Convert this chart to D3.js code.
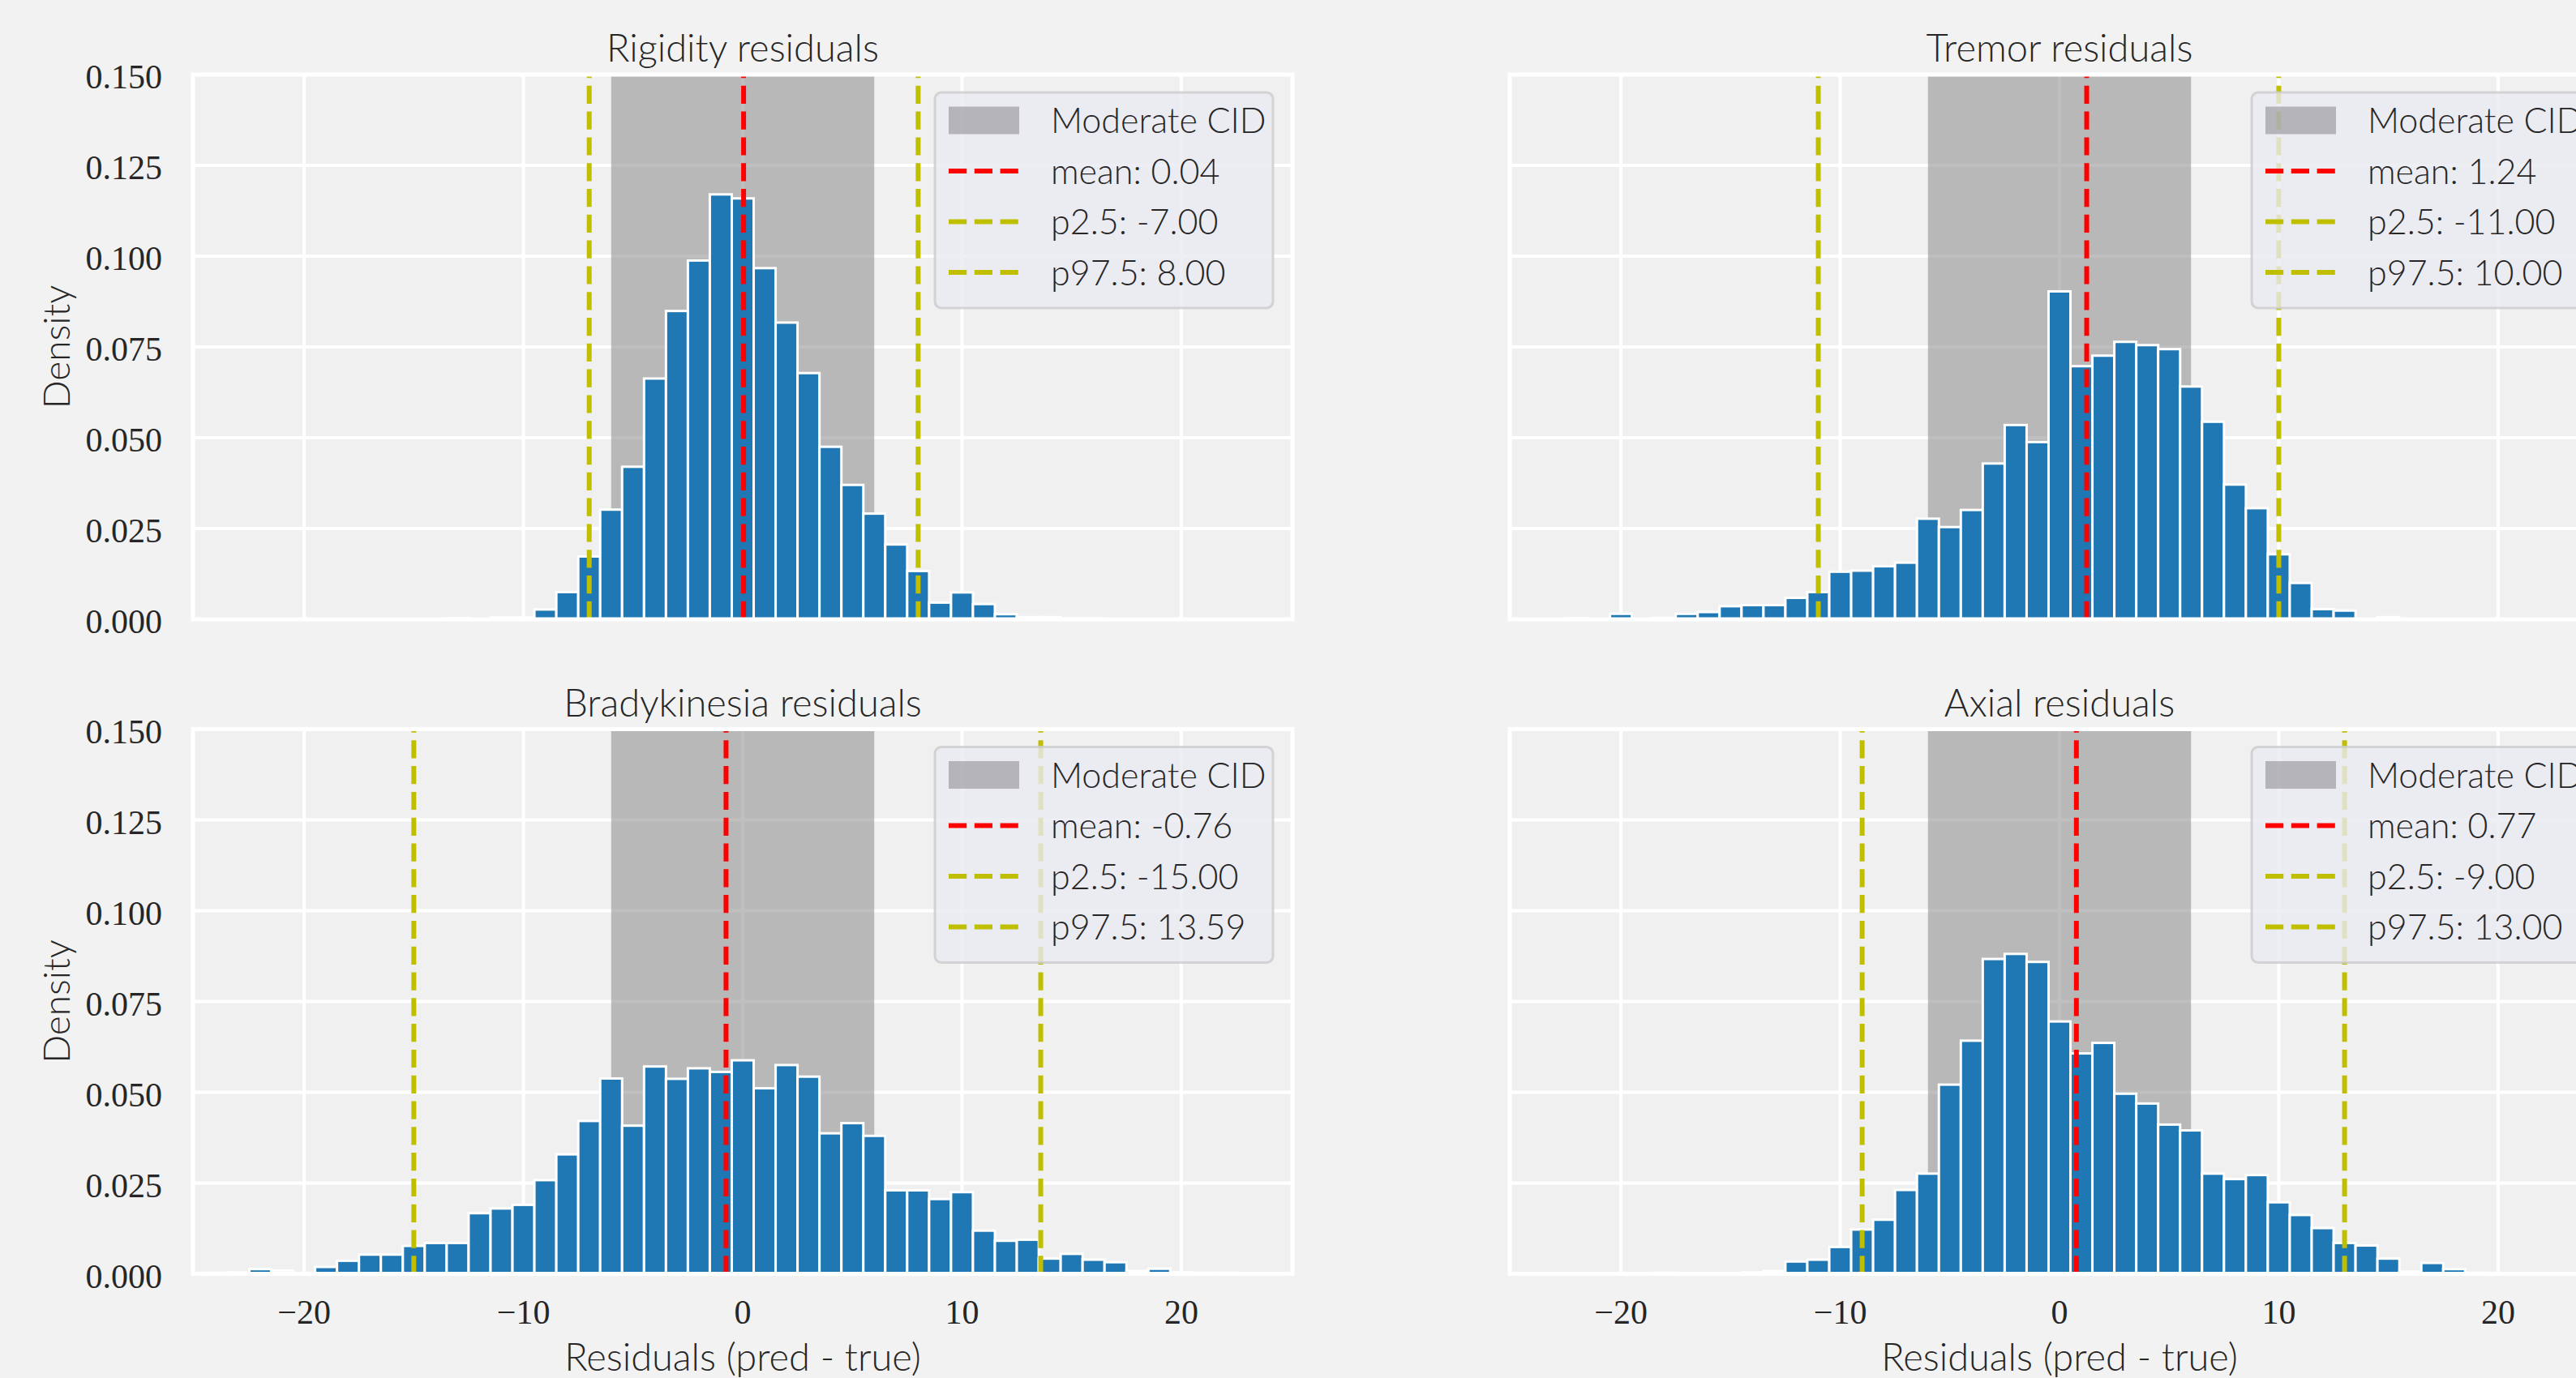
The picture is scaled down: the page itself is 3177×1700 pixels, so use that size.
<!DOCTYPE html>
<html>
<head>
<meta charset="utf-8">
<script src="https://cdn.jsdelivr.net/npm/d3@7"></script>
<style>
  html, body { margin: 0; padding: 0; background: #f2f2f2; }
  svg { display: block; }
</style>
</head>
<body>
<svg id="chart"></svg>
<script>
// bin centres (bins are 1 unit wide, edges at half integers)
const bins = [-24,-23,-22,-21,-20,-19,-18,-17,-16,-15,-14,-13,-12,-11,-10,-9,-8,-7,-6,-5,-4,-3,-2,-1,
  0,1,2,3,4,5,6,7,8,9,10,11,12,13,14,15,16,17,18,19,20,21,22,23];

const rigidity = [0,0,0,0,0,0,0,0,0,0,0,0.0003,0,0.0005,0.0005,0.0027,0.0075,0.0173,0.0302,0.0420,0.0663,0.0849,0.0988,0.1170,
  0.1159,0.0967,0.0817,0.0678,0.0475,0.0370,0.0291,0.0206,0.0133,0.0046,0.0074,0.0042,0.0014,0.0006,0.0006,0.0002,0.0002,0,0,0,0,0,0,0];
const tremor = [0,0,0.0003,0,0.0015,0,0.0004,0.0015,0.0020,0.0036,0.0039,0.0039,0.0059,0.0075,0.0131,0.0134,0.0146,0.0156,0.0277,0.0254,0.0301,0.0429,0.0535,0.0488,
  0.0903,0.0697,0.0726,0.0764,0.0755,0.0744,0.0641,0.0544,0.0371,0.0306,0.0179,0.0100,0.0028,0.0024,0,0.0006,0,0,0,0,0,0,0,0];
const bradykinesia = [0.0003,0.0004,0.0013,0.0009,0,0.0019,0.0036,0.0053,0.0053,0.0077,0.0085,0.0085,0.0167,0.0180,0.0190,0.0258,0.0329,0.0421,0.0538,0.0408,0.0571,0.0537,0.0566,0.0556,
  0.0588,0.0511,0.0575,0.0543,0.0387,0.0415,0.0380,0.0230,0.0230,0.0206,0.0225,0.0119,0.0091,0.0094,0.0042,0.0055,0.0039,0.0032,0.0008,0.0014,0.0004,0.0003,0.0003,0];
const axial = [0,0,0,0,0,0,0.0003,0,0,0,0.0004,0.0008,0.0034,0.0039,0.0074,0.0122,0.0149,0.0231,0.0276,0.0521,0.0642,0.0867,0.0881,0.0859,
  0.0695,0.0607,0.0636,0.0496,0.0469,0.0411,0.0395,0.0276,0.0261,0.0272,0.0197,0.0162,0.0126,0.0085,0.0078,0.0042,0.0006,0.0030,0.0013,0.0003,0.0002,0,0,0];

const titles = ["Rigidity residuals", "Tremor residuals", "Bradykinesia residuals", "Axial residuals"];
const series = [rigidity, tremor, bradykinesia, axial];
const means = [0.04, 1.24, -0.76, 0.77];
const p025 = [-7.00, -11.00, -15.00, -9.00];
const p975 = [8.00, 10.00, 13.59, 13.00];
const cid = [-6, 6];

const xTicks = [-20, -10, 0, 10, 20];
const yTicks = [0, 0.025, 0.05, 0.075, 0.1, 0.125, 0.15];

const W = 3177, H = 1700;
const axW = 1356, axH = 672;
const lefts = [238, 1862];
const tops = [92, 899.5];

const svg = d3.select("#chart").attr("width", W).attr("height", H);
svg.append("rect").attr("width", W).attr("height", H).attr("fill", "#f2f2f2");

const sansFont = "Lato, 'Open Sans', sans-serif";
const serifFont = "'Liberation Serif', 'DejaVu Serif', serif";
const textColor = "#262626";
const fmtTick = d => (d < 0 ? "\u2212" : "") + Math.abs(d);

series.forEach((vals, i) => {
  const col = i % 2, row = Math.floor(i / 2);
  const x0 = lefts[col], y0 = tops[row];

  const x = d3.scaleLinear().domain([-25.07, 25.07]).range([x0, x0 + axW]);
  const y = d3.scaleLinear().domain([0, 0.15]).range([y0 + axH, y0]);

  const g = svg.append("g");
  const clipId = "clip" + i;
  g.append("clipPath").attr("id", clipId)
    .append("rect").attr("x", x0).attr("y", y0).attr("width", axW).attr("height", axH);

  g.append("rect").attr("x", x0).attr("y", y0).attr("width", axW).attr("height", axH)
    .attr("fill", "#f0f0f0");

  const plot = g.append("g").attr("clip-path", `url(#${clipId})`);

  // grid
  plot.selectAll(".vg").data(xTicks).enter().append("line")
    .attr("x1", d => x(d)).attr("x2", d => x(d))
    .attr("y1", y0).attr("y2", y0 + axH)
    .attr("stroke", "#ffffff").attr("stroke-width", 4);
  plot.selectAll(".hg").data(yTicks).enter().append("line")
    .attr("x1", x0).attr("x2", x0 + axW)
    .attr("y1", d => y(d)).attr("y2", d => y(d))
    .attr("stroke", "#ffffff").attr("stroke-width", 4);

  // moderate CID band
  plot.append("rect")
    .attr("x", x(cid[0])).attr("width", x(cid[1]) - x(cid[0]))
    .attr("y", y0).attr("height", axH)
    .attr("fill", "#808080").attr("fill-opacity", 0.5);

  // histogram bars
  const data = bins.map((b, j) => ({ b, v: vals[j] })).filter(d => d.v > 0);
  plot.selectAll(".bar").data(data).enter().append("rect")
    .attr("x", d => x(d.b - 0.5))
    .attr("width", d => x(d.b + 0.5) - x(d.b - 0.5))
    .attr("y", d => y(d.v))
    .attr("height", d => y(0) - y(d.v))
    .attr("fill", "#1f77b4")
    .attr("stroke", "#ffffff").attr("stroke-width", 3);

  // reference lines
  const refs = [
    { v: means[i], c: "#ff0000" },
    { v: p025[i], c: "#bfbf00" },
    { v: p975[i], c: "#bfbf00" }
  ];
  plot.selectAll(".ref").data(refs).enter().append("line")
    .attr("x1", d => x(d.v)).attr("x2", d => x(d.v))
    .attr("y1", y0 + axH).attr("y2", y0)
    .attr("stroke", d => d.c).attr("stroke-width", 6)
    .attr("stroke-dasharray", "22.2 9.6");

  // white frame (spines)
  g.append("rect").attr("x", x0).attr("y", y0).attr("width", axW).attr("height", axH)
    .attr("fill", "none").attr("stroke", "#ffffff").attr("stroke-width", 5);

  // title
  g.append("text")
    .attr("x", x0 + axW / 2).attr("y", y0 - 16)
    .attr("text-anchor", "middle")
    .style("font-family", sansFont).style("font-size", "47px").style("font-weight", 300)
    .attr("fill", textColor)
    .text(titles[i]);

  // y tick labels on the left column
  if (col === 0) {
    g.selectAll(".yt").data(yTicks).enter().append("text")
      .attr("x", x0 - 38).attr("y", d => y(d) + 17)
      .attr("text-anchor", "end")
      .style("font-family", serifFont).style("font-size", "42px")
      .attr("fill", textColor)
      .text(d => d3.format(".3f")(d));
    g.append("text")
      .attr("transform", `translate(86,${y0 + axH / 2}) rotate(-90)`)
      .attr("text-anchor", "middle")
      .style("font-family", sansFont).style("font-size", "46px").style("font-weight", 300)
      .attr("fill", textColor)
      .text("Density");
  }

  // x tick labels on the bottom row
  if (row === 1) {
    g.selectAll(".xt").data(xTicks).enter().append("text")
      .attr("x", d => x(d)).attr("y", y0 + axH + 61)
      .attr("text-anchor", "middle")
      .style("font-family", serifFont).style("font-size", "42px")
      .attr("fill", textColor)
      .text(fmtTick);
    g.append("text")
      .attr("x", x0 + axW / 2).attr("y", y0 + axH + 119)
      .attr("text-anchor", "middle")
      .style("font-family", sansFont).style("font-size", "47px").style("font-weight", 300)
      .attr("fill", textColor)
      .text("Residuals (pred - true)");
  }

  // legend
  const lx = x0 + 915, ly = y0 + 22;
  const lg = g.append("g");
  lg.append("rect").attr("x", lx).attr("y", ly).attr("width", 417).attr("height", 266)
    .attr("rx", 8).attr("fill", "#eaeaf2").attr("fill-opacity", 0.8)
    .attr("stroke", "#cccccc").attr("stroke-opacity", 0.8).attr("stroke-width", 3);
  lg.append("rect").attr("x", lx + 17).attr("y", ly + 17.5).attr("width", 87).attr("height", 34)
    .attr("fill", "#808080").attr("fill-opacity", 0.5);
  const entries = [
    { label: "Moderate CID" },
    { label: `mean: ${means[i].toFixed(2)}`, c: "#ff0000" },
    { label: `p2.5: ${p025[i].toFixed(2)}`, c: "#bfbf00" },
    { label: `p97.5: ${p975[i].toFixed(2)}`, c: "#bfbf00" }
  ];
  entries.forEach((e, j) => {
    const by = ly + 50 + j * 62.5;
    if (e.c) {
      lg.append("line")
        .attr("x1", lx + 17).attr("x2", lx + 104)
        .attr("y1", by - 15.5).attr("y2", by - 15.5)
        .attr("stroke", e.c).attr("stroke-width", 6)
        .attr("stroke-dasharray", "22.2 9.6");
    }
    lg.append("text")
      .attr("x", lx + 143).attr("y", by)
      .style("font-family", sansFont).style("font-size", "43px").style("font-weight", 300)
      .attr("fill", textColor)
      .text(e.label);
  });
});
</script>
</body>
</html>
